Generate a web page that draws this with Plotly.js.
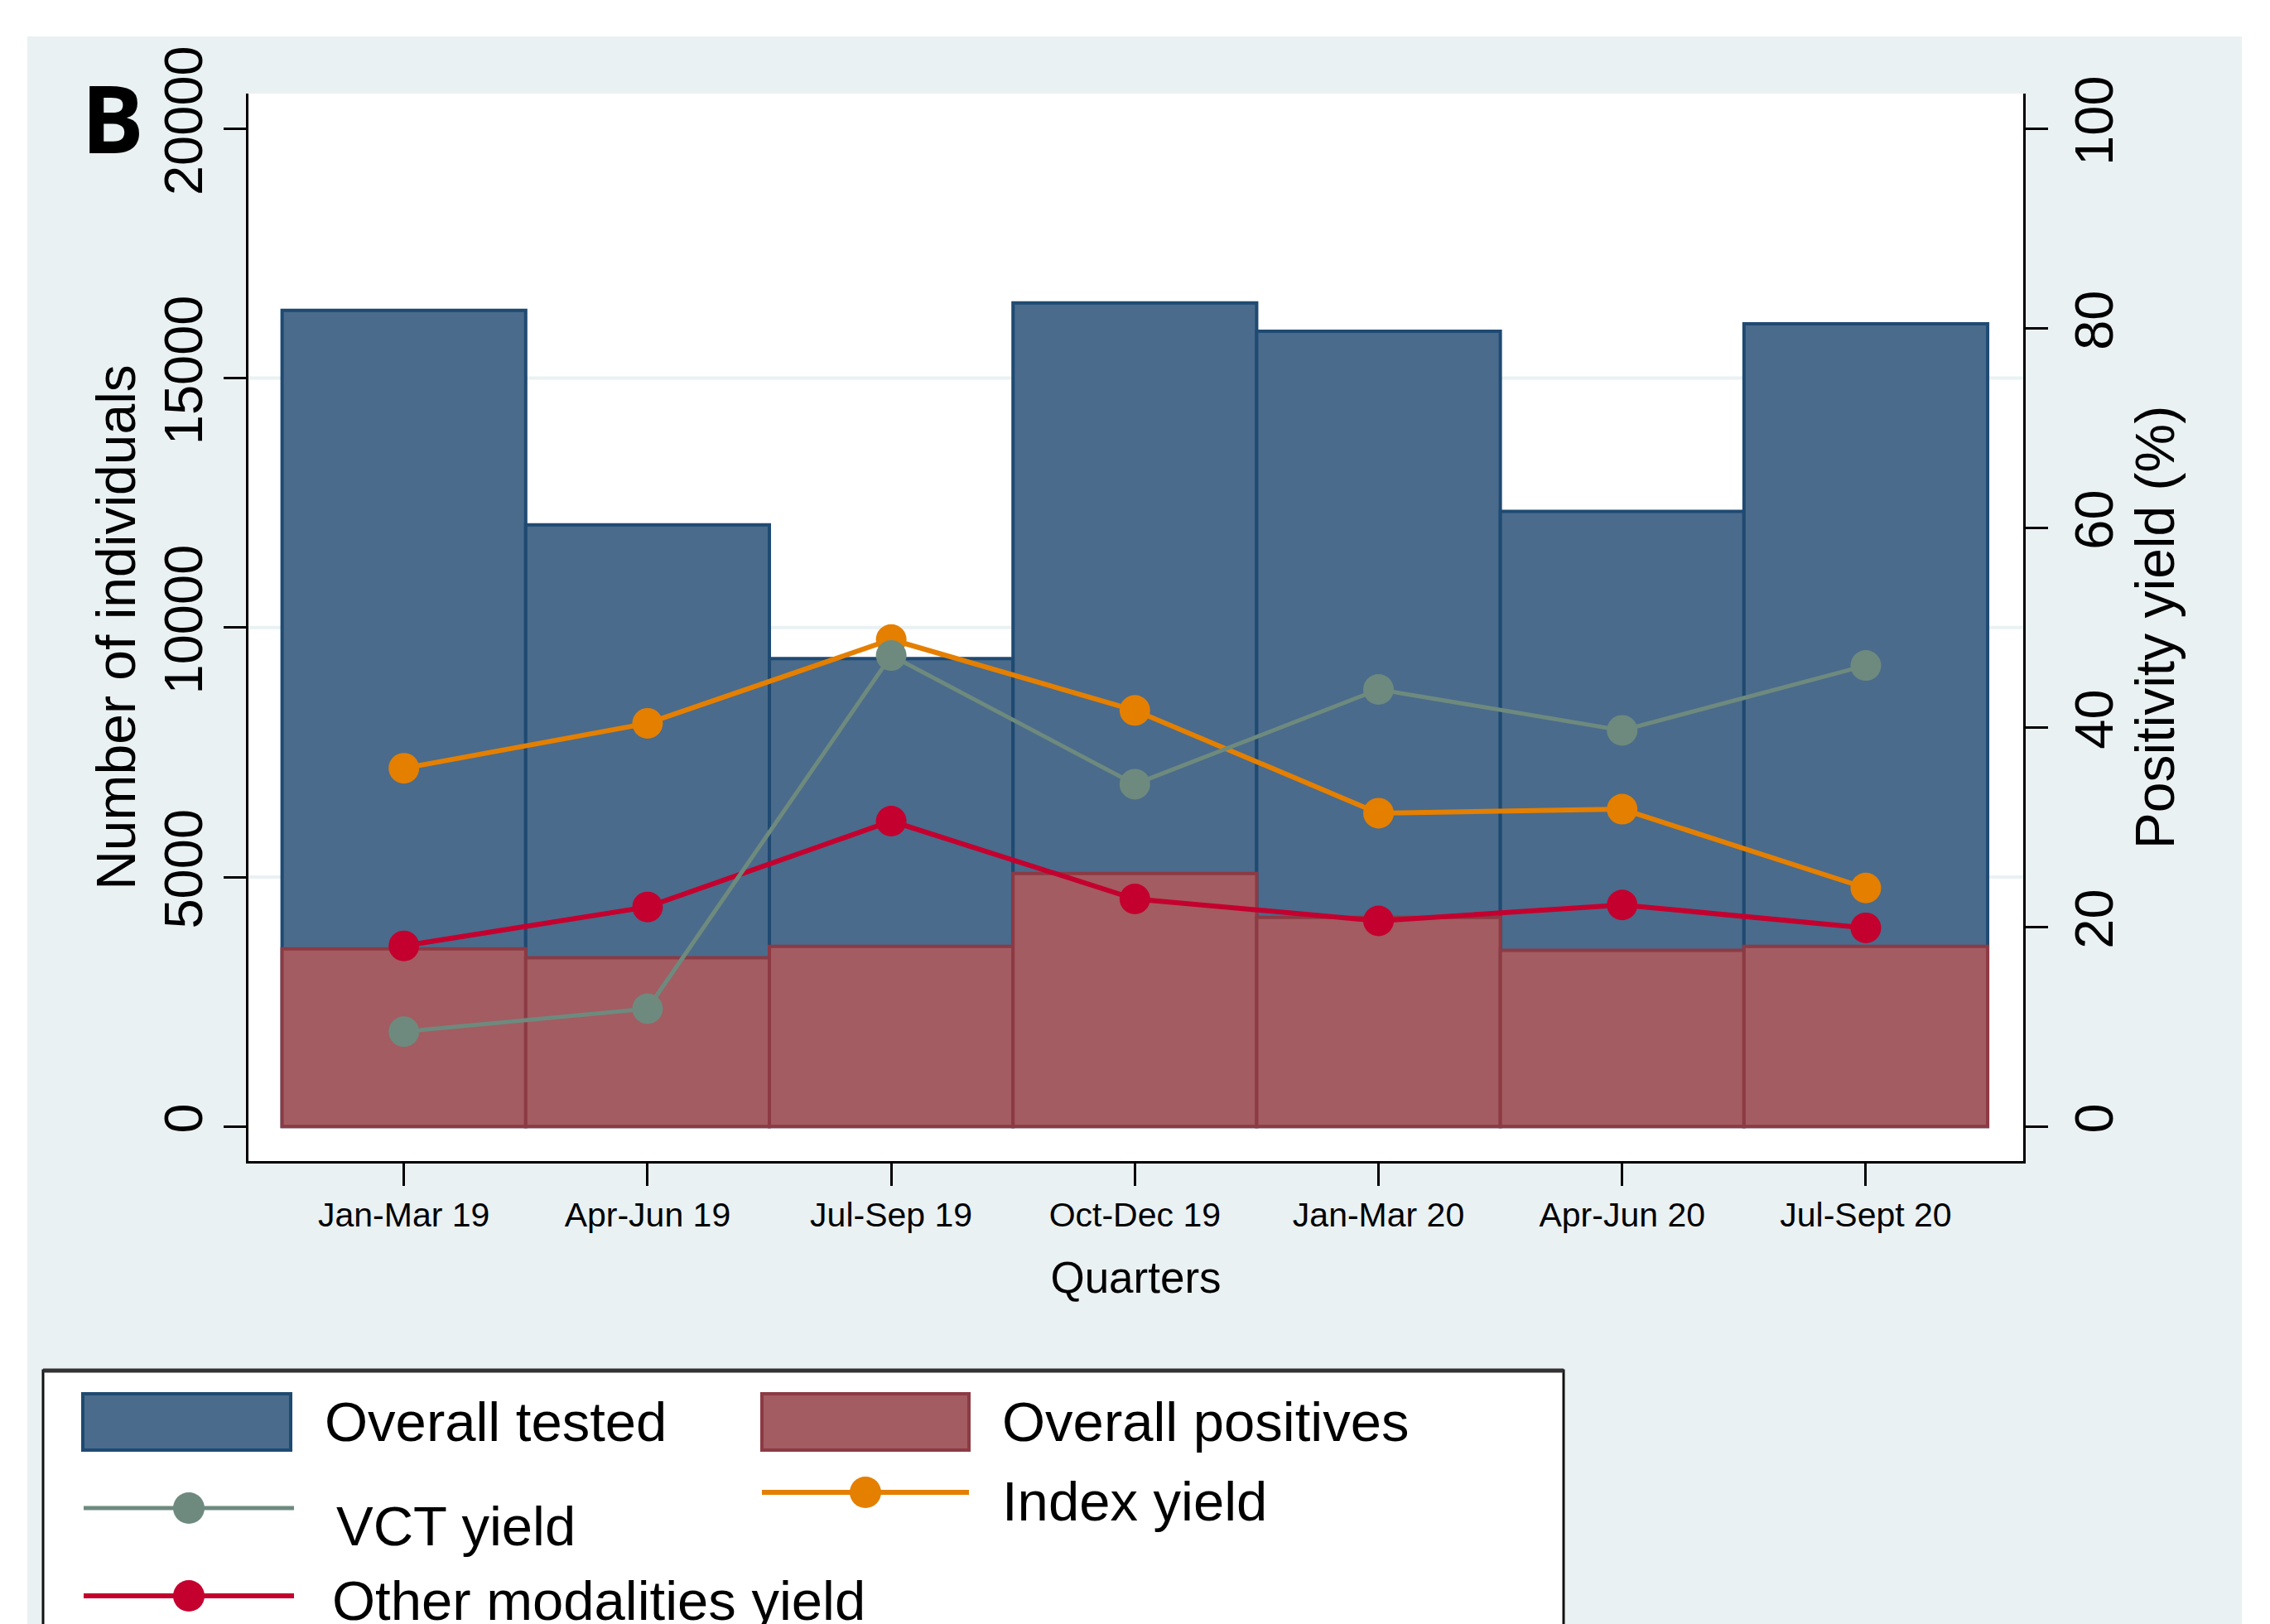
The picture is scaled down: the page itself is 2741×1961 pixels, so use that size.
<!DOCTYPE html>
<html>
<head>
<meta charset="utf-8">
<script src="https://cdn.plot.ly/plotly-3.0.1.min.js"></script>
<style>html,body{margin:0;padding:0;background:#ffffff}#chart{width:2741px;height:1961px}</style>
</head>
<body>
<div id="chart"></div>
<script>
// ---------- data ----------
const quarters = ["Jan-Mar 19", "Apr-Jun 19", "Jul-Sep 19", "Oct-Dec 19", "Jan-Mar 20", "Apr-Jun 20", "Jul-Sept 20"];
const overallTested = [16360, 12060, 9380, 16510, 15940, 12330, 16090];
const overallPositives = [3560, 3380, 3610, 5070, 4190, 3530, 3610];
const vctYield = [9.5, 11.8, 47.2, 34.3, 43.8, 39.7, 46.2];
const indexYield = [35.9, 40.4, 48.8, 41.7, 31.4, 31.8, 23.9];
const otherYield = [18.1, 22.0, 30.6, 22.8, 20.6, 22.2, 19.9];
const leftTicks = [0, 5000, 10000, 15000, 20000];
const leftTickLabels = ["0", "5000", "10000", "15000", "20000"];
const rightTicks = [0, 20, 40, 60, 80, 100];
const rightTickLabels = ["0", "20", "40", "60", "80", "100"];
const gridValues = [5000, 10000, 15000];
const seriesNames = ["Overall tested", "Overall positives", "VCT yield", "Index yield", "Other modalities yield"];
const panelLabel = "B";
const xTitle = "Quarters";
const yTitle = "Number of individuals";
const y2Title = "Positivity yield (%)";

// ---------- styles ----------
const C = {
  bg: "#eaf1f3", blue: "#4a6b8b", blueLine: "#1f4a72", red: "#a35c61", redLine: "#8c3a44",
  vct: "#6e8a7e", index: "#e47f00", other: "#c4002f", axis: "#000000"
};
const FONT = "Liberation Sans, Arial, sans-serif";
const W = 2741, H = 1961;
const PL = 300, PR = 2443, PT = 113, PB = 1402;
const fx = p => (p - PL) / (PR - PL);
const fy = p => (PB - p) / (PB - PT);

// ---------- traces ----------
const traces = [
  {type: "bar", x: quarters, y: overallTested, name: seriesNames[0], yaxis: "y",
   marker: {color: C.blue, line: {color: C.blueLine, width: 4}}, hoverinfo: "skip"},
  {type: "bar", x: quarters, y: overallPositives, name: seriesNames[1], yaxis: "y",
   marker: {color: C.red, line: {color: C.redLine, width: 4}}, hoverinfo: "skip"},
  {type: "scatter", mode: "lines+markers", x: quarters, y: otherYield, name: seriesNames[4], yaxis: "y2",
   line: {color: C.other, width: 6}, marker: {color: C.other, size: 37}, cliponaxis: false, hoverinfo: "skip"},
  {type: "scatter", mode: "lines+markers", x: quarters, y: indexYield, name: seriesNames[3], yaxis: "y2",
   line: {color: C.index, width: 6}, marker: {color: C.index, size: 37}, cliponaxis: false, hoverinfo: "skip"},
  {type: "scatter", mode: "lines+markers", x: quarters, y: vctYield, name: seriesNames[2], yaxis: "y2",
   line: {color: C.vct, width: 5}, marker: {color: C.vct, size: 37}, cliponaxis: false, hoverinfo: "skip"}
];

// ---------- decorations ----------
const shapes = [];
// white outer strips (figure border outside the light panel)
shapes.push({type: "rect", xref: "paper", yref: "paper", x0: fx(0), x1: fx(W), y0: fy(0), y1: fy(44), fillcolor: "#ffffff", line: {width: 0}, layer: "below"});
shapes.push({type: "rect", xref: "paper", yref: "paper", x0: fx(0), x1: fx(33), y0: fy(0), y1: fy(H), fillcolor: "#ffffff", line: {width: 0}, layer: "below"});
shapes.push({type: "rect", xref: "paper", yref: "paper", x0: fx(2707), x1: fx(W), y0: fy(0), y1: fy(H), fillcolor: "#ffffff", line: {width: 0}, layer: "below"});
// gridlines
gridValues.forEach(v => shapes.push({type: "line", xref: "paper", yref: "y", x0: 0, x1: 1, y0: v, y1: v,
  line: {color: C.bg, width: 4}, layer: "below"}));

// legend box
shapes.push({type: "rect", xref: "paper", yref: "paper", x0: fx(52), x1: fx(1888), y0: fy(1655), y1: fy(1990),
  fillcolor: "#ffffff", line: {color: "#111111", width: 3}});
shapes.push({type: "line", xref: "paper", yref: "paper", x0: fx(52), x1: fx(1888), y0: fy(1655), y1: fy(1655),
  line: {color: "#333333", width: 5}});
// legend swatches
function swatch(x0, x1, fill, lc) {
  shapes.push({type: "rect", xref: "paper", yref: "paper", x0: fx(x0), x1: fx(x1), y0: fy(1683), y1: fy(1751),
    fillcolor: fill, line: {color: lc, width: 4}});
}
swatch(100, 351, C.blue, C.blueLine);
swatch(920, 1170, C.red, C.redLine);
function lineKey(x0, x1, y, col, w) {
  shapes.push({type: "line", xref: "paper", yref: "paper", x0: fx(x0), x1: fx(x1), y0: fy(y), y1: fy(y),
    line: {color: col, width: w}});
  const cx = (x0 + x1) / 2, r = 19;
  shapes.push({type: "circle", xref: "paper", yref: "paper", x0: fx(cx - r), x1: fx(cx + r), y0: fy(y + r), y1: fy(y - r),
    fillcolor: col, line: {width: 0}});
}
lineKey(101, 355, 1821, C.vct, 5);
lineKey(920, 1170, 1802, C.index, 6);
lineKey(101, 355, 1927, C.other, 6);

const annotations = [];
function legText(t, x, y) {
  annotations.push({text: t, xref: "paper", yref: "paper", x: fx(x), y: fy(y), xanchor: "left", yanchor: "middle",
    showarrow: false, font: {family: FONT, size: 67, color: "#000000"}});
}
legText(seriesNames[0], 390, 1716);
legText(seriesNames[1], 1208, 1716);
legText(seriesNames[2], 404, 1842);
legText(seriesNames[3], 1208, 1812);
legText(seriesNames[4], 399, 1932);
annotations.push({text: "<b>" + panelLabel + "</b>", xref: "paper", yref: "paper", x: fx(96), y: fy(141),
  xanchor: "left", yanchor: "middle", showarrow: false,
  font: {family: "Open Sans, Noto Sans, sans-serif", size: 113, color: "#000000"}});

const axisCommon = {
  showline: true, linecolor: C.axis, linewidth: 3, ticks: "outside", ticklen: 27, tickwidth: 3, tickcolor: C.axis,
  showgrid: false, zeroline: false, tickfont: {family: FONT, size: 65, color: "#000000"}
};

const layout = {
  width: W, height: H,
  margin: {l: PL, r: W - PR, t: PT, b: H - PB, pad: 0},
  paper_bgcolor: C.bg, plot_bgcolor: "#ffffff",
  showlegend: false, barmode: "overlay", bargap: 0,
  xaxis: Object.assign({}, axisCommon, {
    type: "category", range: [-0.638, 6.646], tickfont: {family: FONT, size: 41, color: "#000000"},
    title: {text: xTitle, font: {family: FONT, size: 53, color: "#000000"}, standoff: 35}
  }),
  yaxis: Object.assign({}, axisCommon, {
    range: [-694, 20704], tickmode: "array", tickvals: leftTicks, ticktext: leftTickLabels, tickangle: -90,
    title: {text: yTitle, font: {family: FONT, size: 66, color: "#000000"}, standoff: 0}
  }),
  yaxis2: Object.assign({}, axisCommon, {
    overlaying: "y", side: "right", range: [-3.47, 103.52], tickmode: "array", tickvals: rightTicks, ticktext: rightTickLabels, tickangle: -90,
    title: {text: y2Title, font: {family: FONT, size: 66, color: "#000000"}, standoff: 0}
  }),
  shapes: shapes, annotations: annotations
};

Plotly.newPlot("chart", traces, layout, {staticPlot: true, displayModeBar: false});
</script>
</body>
</html>
